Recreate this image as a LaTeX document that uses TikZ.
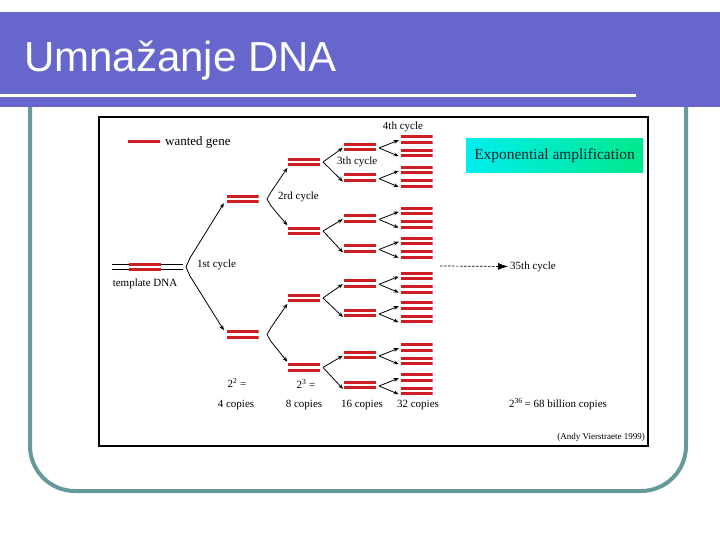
\documentclass[tikz,border=0pt]{standalone}
\usepackage{fontspec}
\setmainfont{Liberation Serif}
\newfontfamily\titlefont{Liberation Sans}
\usetikzlibrary{arrows.meta}
\definecolor{barblue}{RGB}{102,102,204}
\definecolor{frameteal}{RGB}{102,153,153}
\definecolor{dnared}{RGB}{205,30,35}
\definecolor{boxcyan}{RGB}{0,238,238}
\definecolor{boxgreen}{RGB}{0,232,140}
\definecolor{boxtext}{RGB}{5,35,45}
\begin{document}
\begin{tikzpicture}[x=1pt,y=-1pt,
  dna/.style={minimum width=32pt, minimum height=10pt, inner sep=0pt, outer sep=0pt,
    path picture={
      \draw[dnared,line width=3pt] ([yshift=2.8pt]path picture bounding box.west) -- ([yshift=2.8pt]path picture bounding box.east);
      \draw[dnared,line width=3pt] ([yshift=-2.8pt]path picture bounding box.west) -- ([yshift=-2.8pt]path picture bounding box.east);}},
  arr/.style={-{Stealth[length=5pt,width=4pt]}, line width=0.8pt},
  lbl/.style={font=\fontsize{11}{13}\selectfont, inner sep=0pt}]
\useasboundingbox (0,0) rectangle (720,540);
\fill[white] (0,0) rectangle (720,540);
% slide frame
\draw[frameteal,line width=4pt,rounded corners=45pt] (30,100) -- (30,491) -- (686,491) -- (686,100);
\fill[barblue] (0,12) rectangle (720,107);
\draw[white,line width=3pt] (0,95.5) -- (636,95.5);
\node[anchor=base west,text=white,inner sep=0pt,font=\titlefont\fontsize{42}{50}\selectfont] (title) at (24,72) {Umnažanje DNA};
% diagram box
\draw[line width=2.5pt,fill=white] (99,117) rectangle (648,446);
% legend
\coordinate (lg1) at (128,142);
\coordinate (lg2) at (160,142);
\draw[dnared,line width=3pt] (lg1) -- (lg2);
\node[anchor=west,inner sep=0pt,font=\fontsize{13}{15}\selectfont] (legend) at (165,142) {wanted gene};
% template DNA
\coordinate (tl1) at (112,264.2); \coordinate (tr1) at (183,264.2);
\coordinate (tl2) at (112,269.8); \coordinate (tr2) at (183,269.8);
\draw[line width=1.2pt] (tl1) -- (tr1);
\draw[line width=1.2pt] (tl2) -- (tr2);
\node[dna] (t0) at (145,267) {};
\node[lbl] (tlab) at (145,284) {template DNA};
% generation 1
\node[dna] (g1a) at (242.5,199) {};
\node[dna] (g1b) at (242.5,334.5) {};
\coordinate (f0) at (186,267);
\draw[arr,shorten >=5pt] (f0) -- ++(4,-9) -- (g1a.west);
\draw[arr,shorten >=5pt] (f0) -- ++(4,9) -- (g1b.west);
\node[lbl,anchor=west] (c1) at (197,265) {1st cycle};
% generation 2
\node[dna] (g2a) at (304,162) {};
\node[dna] (g2b) at (304,231) {};
\node[dna] (g2c) at (304,298) {};
\node[dna] (g2d) at (304,367.5) {};
\coordinate (f1a) at (267,199);
\coordinate (f1b) at (267,334.5);
\draw[arr,shorten >=1pt] (f1a) -- ++(4,-7) -- (g2a.south west);
\draw[arr,shorten >=1pt] (f1a) -- ++(4,7) -- (g2b.north west);
\draw[arr,shorten >=1pt] (f1b) -- ++(4,-7) -- (g2c.south west);
\draw[arr,shorten >=1pt] (f1b) -- ++(4,7) -- (g2d.north west);
\node[lbl,anchor=west] (c2) at (278,197) {2rd cycle};
% generation 3 and 4
\foreach \i/\yc in {1/147,2/177.7,3/218.5,4/248.5,5/283.3,6/313,7/355,8/385}{
  \node[dna] (g3-\i) at (360,\yc) {};
  \node[dna] (g4a-\i) at (416.5,\yc-7.5) {};
  \node[dna] (g4b-\i) at (416.5,\yc+6) {};
  \coordinate (f3-\i) at (379,\yc+1);
  \draw[arr,shorten >=2pt] (f3-\i) -- (g4a-\i.west);
  \draw[arr,shorten >=2pt] (f3-\i) -- ([yshift=1pt]g4b-\i.south west);
}
\foreach \p/\u/\l in {g2a/g3-1/g3-2,g2b/g3-3/g3-4,g2c/g3-5/g3-6,g2d/g3-7/g3-8}{
  \coordinate (f2-\p) at ([xshift=3pt]\p.east);
  \draw[arr,shorten >=1.5pt] (f2-\p) -- (\u.west);
  \draw[arr,shorten >=1.5pt] (f2-\p) -- (\l.south west);
}
\node[lbl,anchor=west] (c3) at (337,162) {3th cycle};
\node[lbl] (c4) at (403,127) {4th cycle};
% 35th cycle
\coordinate (d0) at (440,266);
\node[lbl,anchor=west] (c35) at (510,266.5) {35th cycle};
\draw[line width=0.7pt,dash pattern=on 2.5pt off 1.5pt,-{Latex[length=10pt,width=7pt]},shorten >=2pt] (d0) -- (c35.west);
% exponential box
\node[minimum width=177pt,minimum height=34pt,inner sep=0pt,left color=boxcyan,right color=boxgreen,text=boxtext,font=\fontsize{15.4}{18}\selectfont] (expo) at (554.5,155.5) {Exponential amplification};
% bottom labels
\node[lbl] (p4) at (237,383) {2\textsuperscript{2} =};
\node[lbl] (n4) at (236,405) {4 copies};
\node[lbl] (p8) at (306,384) {2\textsuperscript{3} =};
\node[lbl] (n8) at (304,405) {8 copies};
\node[lbl] (n16) at (362,405) {16 copies};
\node[lbl] (n32) at (418,405) {32 copies};
\node[lbl] (nbig) at (558,404) {2\textsuperscript{36}\,= 68 billion copies};
\node[anchor=east,inner sep=0pt,font=\fontsize{9}{11}\selectfont] (cite) at (645,437) {(Andy Vierstraete 1999)};
\end{tikzpicture}
\end{document}
